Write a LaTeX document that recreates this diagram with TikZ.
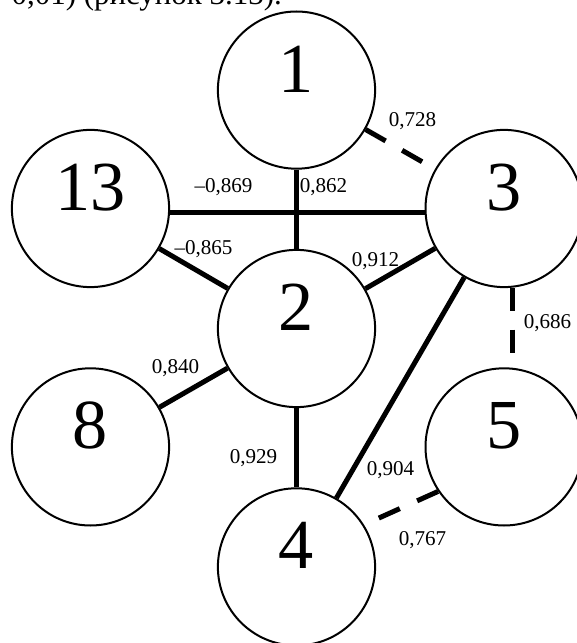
\documentclass[tikz,border=0pt]{standalone}
\usepackage{fontspec}
\setmainfont{Liberation Serif}
\usepackage{tikz}
\usetikzlibrary{positioning}

\begin{document}
\begin{tikzpicture}[
  every node/.style={align=center},
  vertex/.style={draw, circle, line width=0.05cm, minimum size=3.93cm, inner sep=0pt,
                 font=\fontsize{50}{50}\selectfont, text height=0.68em, text depth=0.39em},
  wlabel/.style={font=\fontsize{15}{18}\selectfont, inner sep=1pt},
  strong/.style={line width=0.125cm},
  weak/.style={line width=0.125cm, dash pattern=on 0.575cm off 0.475cm}
]
\useasboundingbox (-7.4125,-7.8625) rectangle (6.9875,8.2125);

% Text line cut by the frame
\node[font=\fontsize{22}{26}\selectfont, anchor=base east, inner sep=0pt] (caption)
  at (-0.36,8.09) {0,01) (рисунок 3.13).};

% Vertices
\node[vertex] (two) at (0,0) {2};
\node[vertex, above=1.98cm of two] (one) {1};
\node[vertex, below=1.98cm of two] (four) {4};
\node[vertex, left=1.17cm of two, yshift=3cm] (thirteen) {13};
\node[vertex, right=1.21cm of two, yshift=3cm] (three) {3};
\node[vertex, left=1.17cm of two, yshift=-2.96cm] (eight) {8};
\node[vertex, right=1.21cm of two, yshift=-2.96cm] (five) {5};

% Strong links
\draw[strong] (one) -- (two);
\draw[strong] (thirteen.-3) -- (three.183);
\draw[strong] (thirteen) -- (two);
\draw[strong] (two) -- (three);
\draw[strong] (eight) -- (two);
\draw[strong] (two) -- (four);
\draw[strong] (three) -- (four);

% Weak links
\draw[weak] (one) -- (three);
\draw[weak] (three.-84) -- (five.84);
\draw[weak] (five.214) -- (four.32);

% Coefficients
\node[wlabel] (l1-3) at (2.9,5.19) {0,728};
\node[wlabel] (l13-3) at (-1.825,3.54) {–0,869};
\node[wlabel] (l1-2) at (0.675,3.54) {0,862};
\node[wlabel] (l13-2) at (-2.325,1.99) {–0,865};
\node[wlabel] (l2-3) at (1.975,1.69) {0,912};
\node[wlabel] (l3-5) at (6.275,0.14) {0,686};
\node[wlabel] (l8-2) at (-3.025,-0.99) {0,840};
\node[wlabel] (l2-4) at (-1.075,-3.24) {0,929};
\node[wlabel] (l3-4) at (2.35,-3.54) {0,904};
\node[wlabel] (l5-4) at (3.15,-5.29) {0,767};

\end{tikzpicture}
\end{document}
